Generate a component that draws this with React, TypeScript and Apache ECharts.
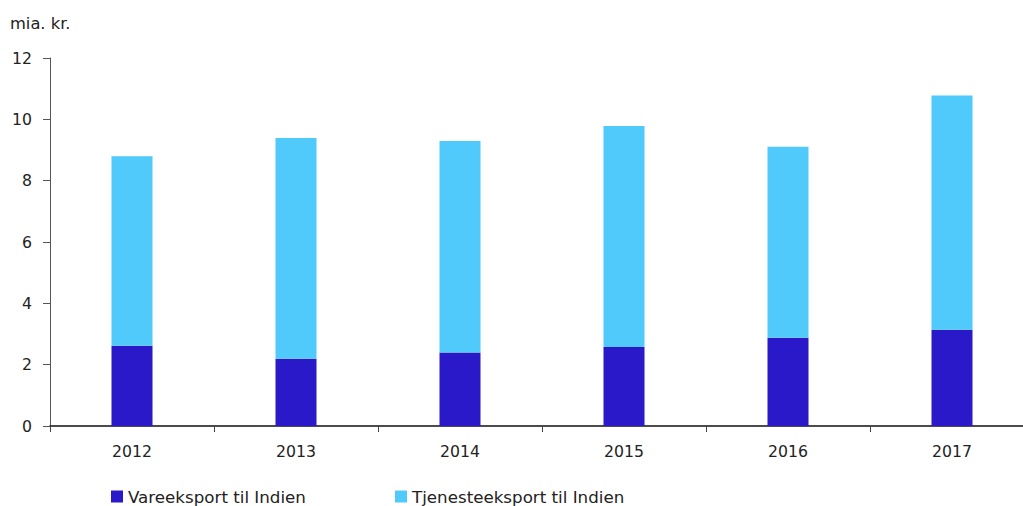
import React, { useEffect, useRef } from "react";
import * as echarts from "echarts";

const categories = ["2012", "2013", "2014", "2015", "2016", "2017"];
const goodsExport = [2.62, 2.19, 2.4, 2.58, 2.88, 3.14];
const serviceExport = [6.18, 7.2, 6.89, 7.2, 6.23, 7.64];
const seriesNames = ["Vareeksport til Indien", "Tjenesteeksport til Indien"];
const unitLabel = "mia. kr.";

const FONT = "'DejaVu Sans', sans-serif";
const TEXT = "#222";

export default function App() {
  const ref = useRef<HTMLDivElement>(null);
  useEffect(() => {
    if (!ref.current) return;
    const chart = echarts.init(ref.current, undefined, { renderer: "svg" });
    const legendText = { fontSize: 16.7, color: TEXT, fontFamily: FONT };
    chart.setOption({
      animation: false,
      textStyle: { fontFamily: FONT },
      title: {
        text: unitLabel,
        left: 10,
        top: 15,
        padding: 0,
        textStyle: { fontSize: 16.3, fontWeight: "normal", color: TEXT, fontFamily: FONT },
      },
      legend: [
        {
          left: 111,
          top: 488,
          padding: 0,
          itemWidth: 12,
          itemHeight: 12,
          icon: "rect",
          textStyle: legendText,
          data: [seriesNames[0]],
        },
        {
          left: 395,
          top: 488,
          padding: 0,
          itemWidth: 12,
          itemHeight: 12,
          icon: "rect",
          textStyle: legendText,
          data: [seriesNames[1]],
        },
      ],
      grid: { left: 50, right: 0, top: 58, bottom: 80, containLabel: false },
      xAxis: {
        type: "category",
        data: categories,
        boundaryGap: true,
        axisLine: { lineStyle: { color: "#111", width: 1.5 } },
        axisTick: { show: true, length: 6, lineStyle: { color: "#444" } },
        axisLabel: { margin: 17, fontSize: 15.7, color: TEXT, fontFamily: FONT },
      },
      yAxis: {
        type: "value",
        min: 0,
        max: 12,
        interval: 2,
        splitLine: { show: false },
        axisLine: { show: true, lineStyle: { color: "#555", width: 1 } },
        axisTick: { show: true, length: 7, lineStyle: { color: "#555" } },
        axisLabel: { margin: 18, fontSize: 15.7, color: TEXT, fontFamily: FONT },
      },
      series: [
        {
          name: seriesNames[0],
          type: "bar",
          stack: "total",
          data: goodsExport,
          barWidth: "25%",
          itemStyle: { color: "#2a19c9" },
        },
        {
          name: seriesNames[1],
          type: "bar",
          stack: "total",
          data: serviceExport,
          barWidth: "25%",
          itemStyle: { color: "#50c9fb" },
        },
      ],
    });
    return () => chart.dispose();
  }, []);
  return (
    <div
      style={{
        position: "fixed",
        left: 0,
        top: 0,
        width: 1023,
        height: 506,
        overflow: "hidden",
        background: "#fff",
      }}
    >
      <div ref={ref} style={{ width: 1034, height: 506 }} />
    </div>
  );
}
